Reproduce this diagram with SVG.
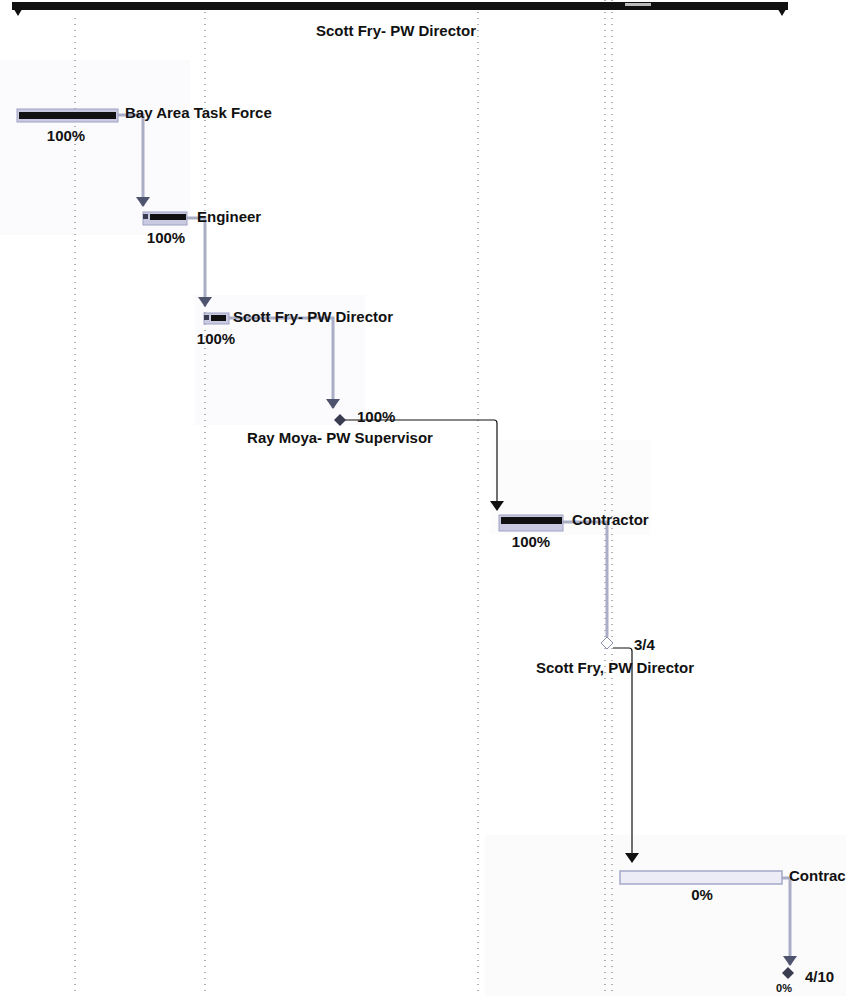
<svg xmlns="http://www.w3.org/2000/svg" width="846" height="996" viewBox="0 0 846 996">
<style>
.t{font-family:"Liberation Sans",Arial,sans-serif;font-weight:bold;font-size:15px;fill:#111}
.grid{stroke:#666;stroke-width:1;stroke-dasharray:1 5;fill:none}
.bar{fill:#c9c9e2;stroke:#9ea2c2;stroke-width:1}
.barE{fill:#ececf7;stroke:#a4a8c6;stroke-width:1.5}
.prog{fill:#111}
.lk{stroke:#a9adc6;stroke-width:3;fill:none}
.lb{stroke:#111;stroke-width:1.2;fill:none}
.ms{fill:#3a3d50}
</style>
<defs>
<marker id="ab" markerWidth="14" markerHeight="10" refX="7" refY="9" markerUnits="userSpaceOnUse" viewBox="0 0 14 10">
<path d="M0,0 L14,0 L7,10 Z" fill="#4f546e"/>
</marker>
<marker id="ak" markerWidth="14" markerHeight="10" refX="7" refY="9" markerUnits="userSpaceOnUse" viewBox="0 0 14 10">
<path d="M0,0 L14,0 L7,10 Z" fill="#111"/>
</marker>
</defs>
<rect width="846" height="996" fill="#fff"/>
<g id="background">
<rect x="0" y="60" width="190" height="175" fill="#fbfbfd"/>
<rect x="195" y="295" width="170" height="130" fill="#fbfbfd"/>
<rect x="490" y="440" width="160" height="95" fill="#fcfcfd"/>
<rect x="485" y="835" width="361" height="161" fill="#fbfbfc"/>
</g>
<g id="grid">
<line class="grid" x1="75" y1="18" x2="75" y2="996"/>
<line class="grid" x1="205" y1="12" x2="205" y2="996"/>
<line class="grid" x1="478" y1="12" x2="478" y2="996"/>
<line class="grid" x1="605" y1="0" x2="605" y2="996"/>
<line class="grid" x1="612" y1="0" x2="612" y2="996"/>
</g>
<g id="connectors">
<path class="lk" d="M117,115 H143 V206" marker-end="url(#ab)"/>
<path class="lk" d="M187,218 H205 V306" marker-end="url(#ab)"/>
<path class="lk" d="M228,318 H333 V408" marker-end="url(#ab)"/>
<path class="lb" d="M345,420 H494 Q497,420 497,423 V510" marker-end="url(#ak)"/>
<path class="lk" d="M563,522 H607 V637"/>
<path class="lb" d="M613,648 H629 Q632,648 632,651 V862" marker-end="url(#ak)"/>
<path class="lk" d="M782,878 H790 V965" marker-end="url(#ab)"/>
</g>
<g id="summary">
<rect x="12" y="2" width="776" height="8" fill="#111"/>
<path d="M12,6 H24 L18,16 Z" fill="#111"/>
<path d="M776,6 H788 L782,16 Z" fill="#111"/>
<rect x="625" y="3" width="26" height="3" fill="#bbb"/>
<text class="t" x="396" y="36" text-anchor="middle">Scott Fry- PW Director</text>
</g>
<g id="task-bay-area">
<rect class="bar" x="17" y="109" width="101" height="13"/>
<rect class="prog" x="19" y="112" width="97" height="7"/>
<text class="t" x="125" y="118">Bay Area Task Force</text>
<text class="t" x="66" y="141" text-anchor="middle">100%</text>
</g>
<g id="task-engineer">
<rect class="bar" x="143" y="212" width="44" height="13"/>
<rect class="prog" x="150" y="214" width="36" height="6"/>
<rect class="ms" x="143" y="214" width="5" height="5"/>
<text class="t" x="197" y="222">Engineer</text>
<text class="t" x="166" y="243" text-anchor="middle">100%</text>
</g>
<g id="task-scott-fry">
<rect class="bar" x="204" y="313" width="25" height="11"/>
<rect class="prog" x="211" y="315" width="15" height="6"/>
<rect class="ms" x="204" y="315" width="5" height="5"/>
<text class="t" x="233" y="322">Scott Fry- PW Director</text>
<text class="t" x="216" y="344" text-anchor="middle">100%</text>
</g>
<g id="milestone-ray-moya">
<path class="ms" d="M340,414 L346,420 L340,426 L334,420 Z"/>
<text class="t" x="357" y="422">100%</text>
<text class="t" x="340" y="443" text-anchor="middle">Ray Moya- PW Supervisor</text>
</g>
<g id="task-contractor">
<rect class="bar" x="499" y="515" width="64" height="16"/>
<rect class="prog" x="501" y="517" width="61" height="7"/>
<text class="t" x="572" y="525">Contractor</text>
<text class="t" x="531" y="547" text-anchor="middle">100%</text>
</g>
<g id="milestone-3-4">
<path d="M607,637 L613,643 L607,649 L601,643 Z" fill="#fff" stroke="#8a8ea8" stroke-width="1"/>
<text class="t" x="634" y="650">3/4</text>
<text class="t" x="615" y="673" text-anchor="middle">Scott Fry, PW Director</text>
</g>
<g id="task-contractor-2">
<rect class="barE" x="620" y="871" width="162" height="13"/>
<text class="t" x="789" y="881">Contrac</text>
<text class="t" x="702" y="900" text-anchor="middle">0%</text>
</g>
<g id="milestone-4-10">
<path class="ms" d="M788,967 L794,973 L788,979 L782,973 Z"/>
<text class="t" x="805" y="982">4/10</text>
<text class="t" x="784" y="992" text-anchor="middle" style="font-size:11px">0%</text>
</g>
</svg>
